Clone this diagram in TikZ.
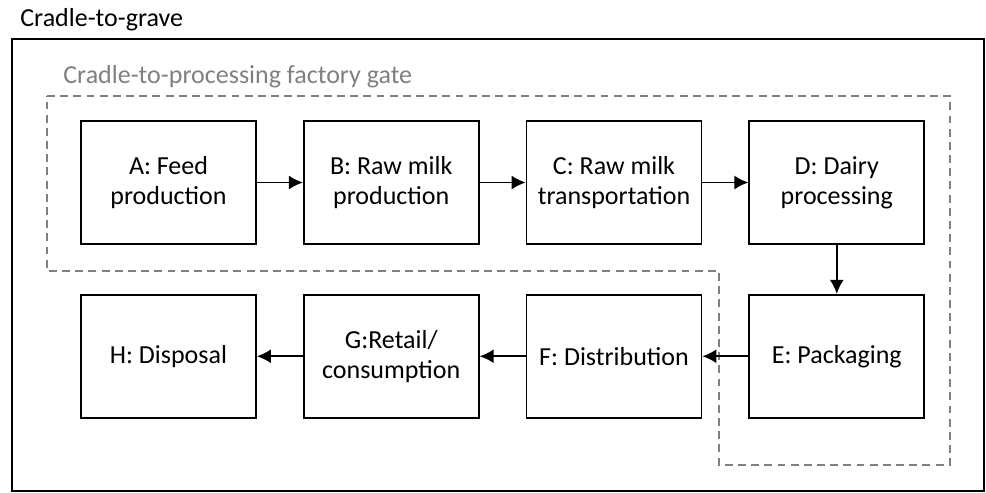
\documentclass[tikz,border=0pt]{standalone}
\usepackage{fontspec}
\setmainfont{Carlito}
\usetikzlibrary{positioning, arrows.meta}
\tikzset{stage/.style={draw, line width=1pt, minimum width=3.5cm, minimum height=2.46cm, align=center, inner sep=2pt, font=\fontsize{14.8}{17}\selectfont}}
\tikzset{flow/.style={-{Latex[length=8pt,width=8pt]}, line width=1pt}}
\tikzset{gate/.style={draw=black!50, line width=0.9pt, dash pattern=on 4.5pt off 3pt}}

\begin{document}
\begin{tikzpicture}[node distance=0.98cm and 0.92cm]
  \useasboundingbox (0,0) rectangle (19.72,-9.84);

  % cradle-to-grave frame
  \draw[line width=1.2pt] (0.24,-0.78) rectangle (19.68,-9.82);
  \node[anchor=base west, font=\fontsize{14.8}{17}\selectfont, inner sep=0pt] (grave) at (0.4,-0.53) {Cradle-to-grave};

  % factory gate boundary
  \draw[gate] (0.94,-1.92) -- (19.0,-1.92) -- (19.0,-9.30) -- (14.38,-9.30)
    -- (14.38,-5.42) -- (0.94,-5.42) -- cycle;
  \node[anchor=base west, text=black!50, font=\fontsize{14.8}{17}\selectfont, inner sep=0pt] (gatelabel) at (1.26,-1.66) {Cradle-to-processing factory gate};

  \node[stage] (A) at (3.37,-3.65) {A: Feed\\production};
  \node[stage, right=of A] (B) {B: Raw milk\\production};
  \node[stage, right=of B] (C) {C: Raw milk\\transportation};
  \node[stage, right=of C] (D) {D: Dairy\\processing};

  \node[stage, below=of D] (E) {E: Packaging};
  \node[stage, left=of E] (F) {F: Distribution};
  \node[stage, left=of F] (G) {G:Retail/\\consumption};
  \node[stage, left=of G] (H) {H: Disposal};

  \draw[flow] (A) -- (B);
  \draw[flow] (B) -- (C);
  \draw[flow] (C) -- (D);
  \draw[flow] (D) -- (E);
  \draw[flow] (E) -- (F);
  \draw[flow] (F) -- (G);
  \draw[flow] (G) -- (H);
\end{tikzpicture}
\end{document}
